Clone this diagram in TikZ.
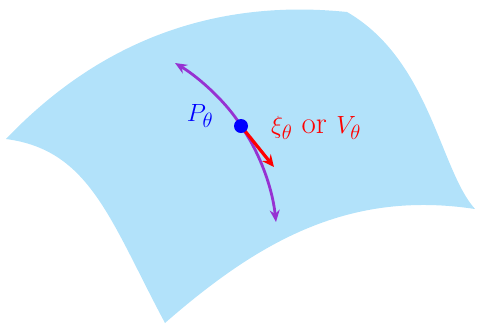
\documentclass[tikz,border=0pt]{standalone}
\usetikzlibrary{arrows.meta}
\definecolor{surf}{RGB}{178,226,250}
\definecolor{curv}{RGB}{150,50,210}
\tikzset{
  surface/.style={fill=surf,draw=none},
  geod/.style={draw=curv,line width=2.8pt,{Stealth[length=12pt,width=10pt,inset=4pt]}-{Stealth[length=12pt,width=10pt,inset=4pt]}},
  tangent/.style={draw=red,line width=3.2pt,-{Stealth[length=12pt,width=11pt,inset=4pt]}},
  lbl/.style={font=\fontsize{31}{36}\selectfont,inner sep=0pt}
}
\begin{document}
\begin{tikzpicture}[x=1pt,y=-1pt]
\useasboundingbox (0,0) rectangle (477,325);
\path[surface] (6,139) .. controls (110,30) and (230,0) .. (347,12)
  .. controls (430,60) and (440,170) .. (475,209)
  .. controls (350,190) and (260,240) .. (165,323)
  .. controls (110,220) and (90,150) .. (6,139) -- cycle;
\coordinate (A) at (175,63);
\coordinate (P) at (241,126);
\coordinate (B) at (276,222);
\coordinate (T) at (274,167);
\draw[geod] (A) .. controls (200,78) and (228,104) .. (P) .. controls (258,150) and (272,185) .. (B);
\draw[tangent] (P) -- (T);
\node[fill=blue,circle,minimum size=14pt,inner sep=0pt] (dot) at (P) {};
\node[lbl,text=blue] (pl) at (200,116) {$P_\theta$};
\node[lbl,text=red,anchor=west] (vl) at (271,128) {$\xi_\theta$ or $V_\theta$};
\end{tikzpicture}
\end{document}
